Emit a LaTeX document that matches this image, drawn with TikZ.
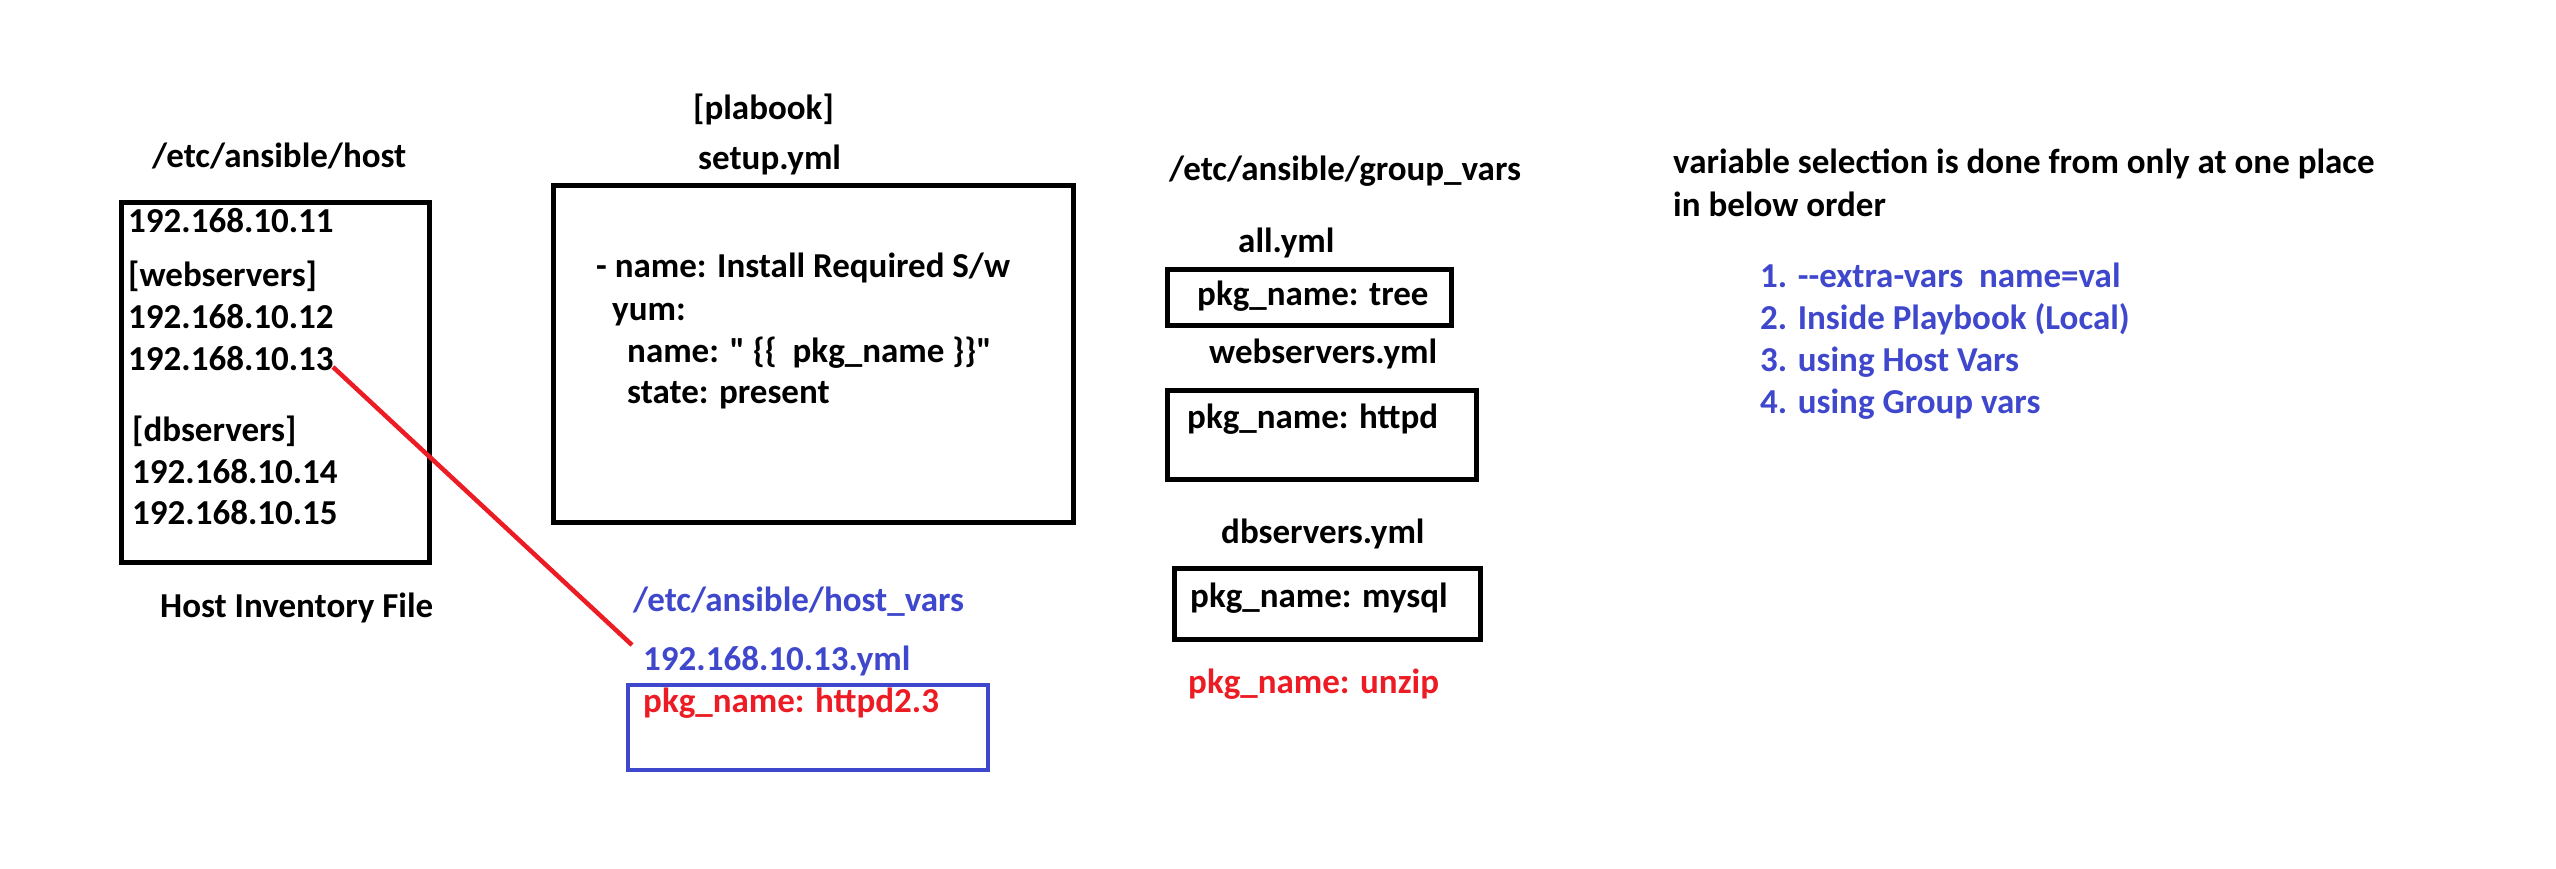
\documentclass[tikz,border=0pt]{standalone}
\usepackage{fontspec}
\setmainfont{Carlito}[Ligatures=TeXOff]
\definecolor{pblue}{RGB}{63,72,204}
\definecolor{pred}{RGB}{237,28,36}
\tikzset{
  txt/.style={anchor=base west, inner sep=0pt, font=\fontsize{35}{42}\selectfont\bfseries, text=black},
  bluetxt/.style={txt, text=pblue},
  redtxt/.style={txt, text=pred},
  frame/.style={draw=black, line width=5pt, inner sep=0pt},
  blueframe/.style={draw=pblue, line width=4.5pt, inner sep=0pt},
  link/.style={draw=pred, line width=4.5pt}
}
\begin{document}
\begin{tikzpicture}[x=1pt,y=-1pt]
\useasboundingbox[fill=white] (0,0) rectangle (2556,868);
% host inventory
\node[txt] (hosttitle) at (152,167) {/etc/ansible/host};
\node[frame, minimum width=308pt, minimum height=360pt] (hostbox) at (275,382) {};
\node[txt] (h11) at (128,232) {192.168.10.11};
\node[txt] (hweb) at (128,286) {[webservers]};
\node[txt] (h12) at (128,328) {192.168.10.12};
\node[txt] (h13) at (128,370) {192.168.10.13};
\node[txt] (hdb) at (132,441) {[dbservers]};
\node[txt] (h14) at (132,483) {192.168.10.14};
\node[txt] (h15) at (132,524) {192.168.10.15};
\node[txt] (hinv) at (160,617) {Host Inventory File};
% playbook
\node[txt] (plab) at (693,119) {[plabook]};
\node[txt] (setup) at (698,169) {setup.yml};
\node[frame, minimum width=520pt, minimum height=337pt] (setupbox) at (813,353.5) {};
\node[txt] (s1) at (596,277) {- name: Install Required S/w};
\node[txt] (s2) at (612,320) {yum:};
\node[txt] (s3) at (627,362) {name: " \{\{\ \ pkg\_name \}\}"};
\node[txt] (s4) at (627,403) {state: present};
% host vars
\node[bluetxt] (hvtitle) at (633,611) {/etc/ansible/host\_vars};
\node[bluetxt] (hvfile) at (643,670) {192.168.10.13.yml};
\node[blueframe, minimum width=360pt, minimum height=85pt] (hvbox) at (808,727.5) {};
\node[redtxt] (hvval) at (643,712) {pkg\_name: httpd2.3};
% group vars
\node[txt] (gvtitle) at (1169,180) {/etc/ansible/group\_vars};
\node[txt] (allf) at (1238,252) {all.yml};
\node[frame, minimum width=284pt, minimum height=56pt] (allbox) at (1309,297) {};
\node[txt] (allv) at (1197,305) {pkg\_name: tree};
\node[txt] (webf) at (1209,363) {webservers.yml};
\node[frame, minimum width=309pt, minimum height=89pt] (webbox) at (1321.5,434.5) {};
\node[txt] (webv) at (1187,428) {pkg\_name: httpd};
\node[txt] (dbf) at (1221,543) {dbservers.yml};
\node[frame, minimum width=306pt, minimum height=71pt] (dbbox) at (1327,603.5) {};
\node[txt] (dbv) at (1190,607) {pkg\_name: mysql};
\node[redtxt] (unzip) at (1188,693) {pkg\_name: unzip};
% order
\node[txt] (ord1) at (1673,173) {variable selection is done from only at one place};
\node[txt] (ord2) at (1673,216) {in below order};
\node[bluetxt] (l1) at (1760,287) {1. --extra-vars\ \ name=val};
\node[bluetxt] (l2) at (1760,329) {2. Inside Playbook (Local)};
\node[bluetxt] (l3) at (1760,371) {3. using Host Vars};
\node[bluetxt] (l4) at (1760,413) {4. using Group vars};
% red connector
\coordinate (lstart) at (333,367);
\coordinate (lend) at (632,645);
\draw[link] (lstart) -- (lend);
\end{tikzpicture}
\end{document}
